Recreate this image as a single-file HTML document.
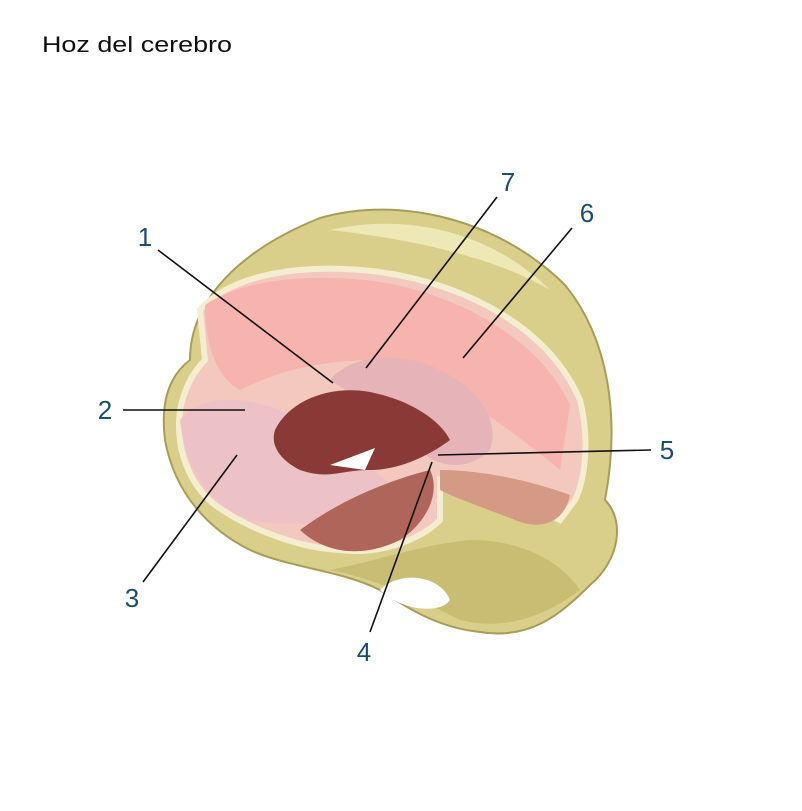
<!DOCTYPE html>
<html><head><meta charset="utf-8"><style>
html,body{margin:0;padding:0;background:#fff;}
svg{display:block;}
text{font-family:"Liberation Sans",sans-serif;}
</style></head><body>
<svg width="802" height="811" viewBox="0 0 802 811">
<rect width="802" height="811" fill="#fff"/>
<text x="42" y="52" font-size="22" textLength="190" lengthAdjust="spacingAndGlyphs" fill="#111">Hoz del cerebro</text>
<g>
<path d="M190,360 C190,300 240,250 320,218 C400,195 500,220 565,285 C610,340 620,420 605,500 C625,520 620,560 590,585 C560,615 530,640 480,632 C440,628 410,610 380,590 C340,570 290,568 250,550 C210,530 175,495 165,440 C160,400 170,375 190,360 Z" fill="#d9cf8a" stroke="#a89d58" stroke-width="2"/>
<path d="M330,230 C420,210 500,240 550,290 C500,260 420,240 330,230 Z" fill="#f2ecc0" opacity="0.8"/>
<path d="M330,570 C380,580 420,600 460,620 C500,630 540,620 580,590 C560,560 520,540 470,540 C420,545 380,560 330,570 Z" fill="#c8bd73"/>
<path d="M380,590 C400,570 440,575 450,600 C440,615 400,610 380,590 Z" fill="#fff"/>
</g>
<g>
<path d="M200,310 C230,275 300,262 380,272 C470,285 550,330 580,400 C590,440 585,480 575,500 L560,520 C520,500 470,490 440,480 L440,520 C420,540 380,555 340,550 C300,548 250,530 215,505 C190,485 175,450 180,410 C185,385 195,370 205,360 Z" fill="#f3c8bf" stroke="#f5edd0" stroke-width="6"/>
<path d="M205,305 C240,280 310,272 380,282 C460,295 540,340 570,405 L560,470 C500,420 440,380 380,360 C320,360 280,370 240,390 C220,380 205,350 205,305 Z" fill="#f7b3ad"/>
<path d="M180,420 C200,395 240,395 280,410 C330,430 370,470 400,490 C360,520 300,530 250,520 C210,505 185,470 180,420 Z" fill="#ecc2c6"/>
<path d="M330,380 C350,355 400,350 440,370 C480,390 500,420 490,450 C470,470 440,470 420,450 C400,420 360,400 330,380 Z" fill="#e6b3b8"/>
<path d="M275,430 C290,400 330,385 370,392 C410,400 440,420 450,440 C430,455 400,470 370,470 C340,470 330,480 300,470 C280,460 270,445 275,430 Z" fill="#8a3a36"/>
<path d="M300,530 C340,500 390,480 430,470 C440,490 430,520 400,540 C370,555 330,558 300,530 Z" fill="#b0655a"/>
<path d="M330,465 L375,448 L365,470 Z" fill="#fff"/>
<path d="M440,470 C480,470 530,480 570,495 C565,520 545,530 520,522 C490,510 460,500 440,490 Z" fill="#d59a85"/>
</g>
<g stroke="#111" stroke-width="1.6">
<line x1="158" y1="250" x2="333" y2="383"/>
<line x1="123" y1="410" x2="245" y2="410"/>
<line x1="143" y1="582" x2="237" y2="455"/>
<line x1="370" y1="632" x2="432" y2="462"/>
<line x1="438" y1="455" x2="651" y2="450"/>
<line x1="572" y1="228" x2="463" y2="358"/>
<line x1="497" y1="197" x2="366" y2="368"/>
</g>
<g font-size="26" fill="#1a4d73" text-anchor="middle">
<text x="145" y="246">1</text>
<text x="105" y="419">2</text>
<text x="132" y="607">3</text>
<text x="364" y="661">4</text>
<text x="667" y="459">5</text>
<text x="587" y="222">6</text>
<text x="508" y="191">7</text>
</g>
</svg>
</body></html>
